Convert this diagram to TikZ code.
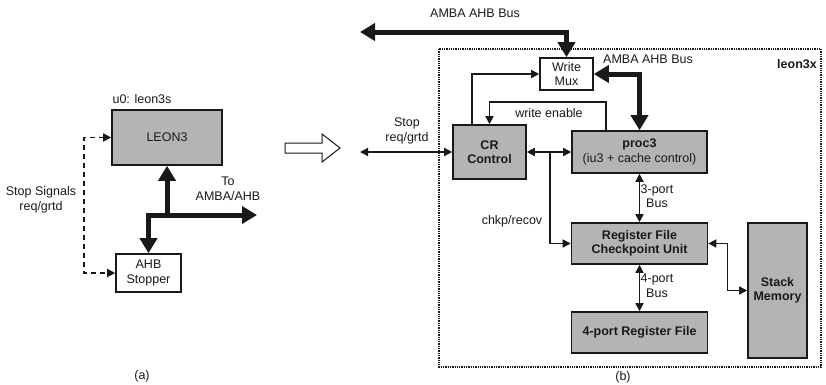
\documentclass[tikz,border=0pt]{standalone}
\usepackage{fontspec}
\setmainfont{Liberation Sans}
\usetikzlibrary{arrows.meta,positioning}
\definecolor{boxgray}{RGB}{180,180,180}
\definecolor{ink}{RGB}{25,25,25}

\begin{document}
\begin{tikzpicture}[x=1pt,y=-1pt,>={Triangle[length=8pt,width=8pt]},
    font=\fontsize{12.5}{14.5}\selectfont,
    every node/.style={align=center,text=ink},
    unit/.style={draw=ink,line width=1.6pt,fill=boxgray,inner sep=0pt},
    plain/.style={draw=ink,line width=1.6pt,fill=white,inner sep=0pt},
    link/.style={draw=ink,line width=1.5pt},
    bus/.style={draw=ink,line width=5pt,>={Triangle[length=15pt,width=17pt]}},
    sig/.style={draw=ink,line width=1.5pt,dash pattern=on 5pt off 4pt}]
    \useasboundingbox (0,0) rectangle (826,384);

    % (a) leon3s
    \node[unit,minimum width=110pt,minimum height=55pt] (leon) at (167,137.5) {LEON3};
    \node (u0) at (142,99) {u0: leon3s};
    \node[plain,minimum width=65pt,minimum height=38pt] (stopper) at (148.5,273) {AHB\\Stopper};
    \node (stopsig) at (41,200) {Stop Signals\\req/grtd};
    \node (toahb) at (228,189) {To\\AMBA/AHB};
    \node (capa) at (142,376) {(a)};
    \coordinate (ahb) at (257,215);

    \draw[sig,<->] (leon.west) -- ++(-27,0) |- (stopper.west);
    \draw[bus,<->] (stopper) |- (ahb);
    \draw[bus,->] (leon.south |- ahb) -- (leon);

    % hollow arrow
    \draw[ink,line width=1pt] (285,143) -- (322,143) -- (322,134) -- (340,148)
        -- (322,162) -- (322,153) -- (285,153) -- cycle;

    % (b) leon3x
    \draw[ink,line width=1.3pt,dash pattern=on 1.3pt off 1pt] (439,49) rectangle (821,367);
    \node[font=\fontsize{12.5}{14.5}\selectfont\bfseries] (leon3x) at (797,64) {leon3x};
    \node (bustop) at (475,13) {AMBA AHB Bus};
    \node (busin) at (648,59) {AMBA AHB Bus};

    \node[plain,minimum width=53pt,minimum height=32pt] (wmux) at (566.5,74) {Write\\Mux};
    \node[unit,minimum width=73pt,minimum height=54pt] (cr) at (489.5,152) {\textbf{CR}\\\textbf{Control}};
    \node[unit,minimum width=135pt,minimum height=42pt] (proc) at (639.5,152) {\textbf{proc3}\\(iu3 + cache control)};
    \node[unit,minimum width=136pt,minimum height=41pt] (rfcu) at (639.5,243.5) {\textbf{Register File}\\\textbf{Checkpoint Unit}};
    \node[unit,minimum width=136pt,minimum height=41pt] (rf4) at (639.5,332.5) {\textbf{4-port Register File}};
    \node[unit,minimum width=59pt,minimum height=135pt] (stack) at (777.5,290.5) {\textbf{Stack}\\\textbf{Memory}};

    \node (stopreq) at (407,131) {Stop\\req/grtd};
    \node (wen) at (549,113) {write enable};
    \node (chkp) at (512,221) {chkp/recov};
    \node (bus3) at (657,196) {3-port\\Bus};
    \node (bus4) at (657,286) {4-port\\Bus};
    \node (capb) at (623,377) {(b)};
    \coordinate (amba) at (360,32);
    \coordinate (stop) at (360,152);

    \draw[bus,<->] (amba) -| (wmux);
    \draw[bus,<->] (wmux) -| (proc);
    \draw[link,->] ([xshift=-17.5pt]cr.north) |- (wmux);
    \draw[link,->] ([xshift=-33.5pt]proc.north) -- ++(0,-28) -| (cr.north);
    \draw[link,<->] (stop) -- (cr);
    \draw[link,<->] (cr) -- (proc);
    \draw[link,->] ([xshift=23pt]cr.east) |- (rfcu);
    \draw[link,<->] (proc) -- (rfcu);
    \draw[link,<->] (rfcu) -- (rf4);
    \draw[link,<->] (rfcu.east) -- ++(19,0) |- (stack);
\end{tikzpicture}
\end{document}
